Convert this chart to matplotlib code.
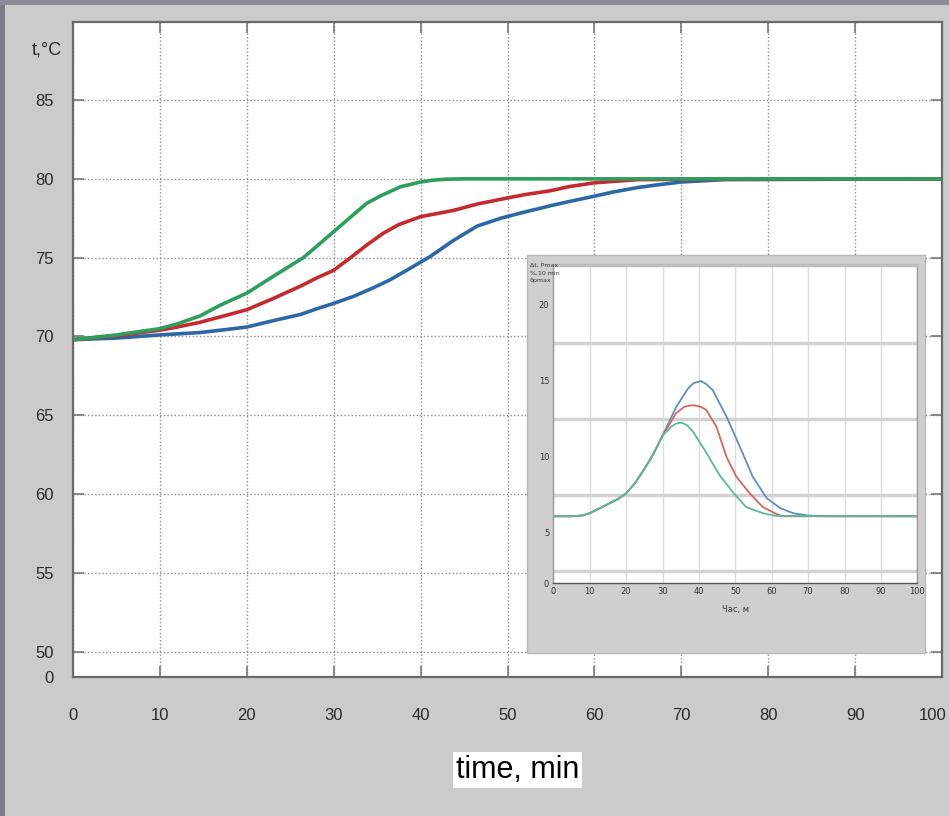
import matplotlib
matplotlib.use("Agg")
import matplotlib.pyplot as plt
from matplotlib.patches import Rectangle
from matplotlib.transforms import ScaledTranslation

# main chart: temperature vs time, three regimes
time_green = [0, 2.5, 5, 7.5, 10, 12, 14.6, 17, 20, 23, 26.5, 28, 30, 32, 33.8, 35.5, 37.7, 40, 41.5, 43, 45, 60, 80, 100]
temp_green = [69.8, 69.95, 70.1, 70.3, 70.5, 70.8, 71.3, 72.0, 72.75, 73.8, 75.0, 75.7, 76.65, 77.6, 78.45, 78.95, 79.5, 79.8, 79.92, 79.98, 80.0, 80.0, 80.0, 80.0]

time_red = [0, 5, 10, 12, 14.6, 17, 20, 23, 26.2, 28, 30, 32.1, 33.8, 35.7, 37.5, 40, 43.8, 46.5, 49.2, 52, 55, 57, 60, 65, 80, 100]
temp_red = [69.8, 70.05, 70.4, 70.6, 70.9, 71.25, 71.7, 72.4, 73.2, 73.7, 74.2, 75.07, 75.8, 76.55, 77.1, 77.6, 78.0, 78.4, 78.7, 79.0, 79.25, 79.5, 79.75, 79.95, 80.0, 80.0]

time_blue = [0, 5, 10, 14.6, 17, 20, 23, 26.2, 28, 30, 32.3, 34.6, 36.5, 38.4, 41.1, 43.8, 46.5, 49.2, 52, 55, 57, 60, 62, 65, 67, 70, 75, 100]
temp_blue = [69.8, 69.9, 70.1, 70.25, 70.4, 70.6, 71.0, 71.4, 71.75, 72.1, 72.55, 73.1, 73.6, 74.2, 75.07, 76.1, 77.0, 77.5, 77.9, 78.3, 78.55, 78.9, 79.15, 79.45, 79.6, 79.8, 79.95, 80.0]

x_ticks = [0, 10, 20, 30, 40, 50, 60, 70, 80, 90, 100]
y_ticks = [48.4, 50, 55, 60, 65, 70, 75, 80, 85]
y_labels = ["0", "50", "55", "60", "65", "70", "75", "80", "85"]

# inset chart
ins_time_blue = [0, 5, 8, 10, 12.5, 15, 17.5, 20, 22.5, 25, 27.5, 30, 33.8, 37, 38.5, 40.5, 42, 43.8, 47.6, 51.2, 54.8, 58.6, 62.3, 65.9, 70, 75, 100]
ins_val_blue = [6.1, 6.1, 6.15, 6.3, 6.6, 6.9, 7.2, 7.6, 8.3, 9.2, 10.2, 11.4, 13.3, 14.5, 14.85, 15.0, 14.8, 14.4, 12.65, 10.7, 8.7, 7.3, 6.64, 6.3, 6.15, 6.1, 6.1]

ins_time_red = [0, 5, 8, 10, 12.5, 15, 17.5, 20, 22.5, 25, 27.5, 30, 33.8, 36, 37.5, 38.8, 40.5, 42, 44.8, 47.6, 50.3, 54, 57.6, 61.3, 63, 100]
ins_val_red = [6.1, 6.1, 6.15, 6.3, 6.6, 6.9, 7.2, 7.6, 8.3, 9.2, 10.2, 11.4, 12.9, 13.3, 13.38, 13.4, 13.3, 13.1, 12.0, 10.0, 8.7, 7.6, 6.7, 6.25, 6.1, 6.1]

ins_time_green = [0, 5, 8, 10, 12.5, 15, 17.5, 20, 22.5, 25, 27.5, 30, 32.4, 33.8, 35.2, 36.7, 38.3, 42, 45.7, 49.6, 53, 57.6, 61.3, 100]
ins_val_green = [6.1, 6.1, 6.15, 6.3, 6.6, 6.9, 7.2, 7.6, 8.3, 9.2, 10.2, 11.4, 12.0, 12.2, 12.26, 12.1, 11.7, 10.3, 8.8, 7.6, 6.7, 6.3, 6.12, 6.1]

ins_y_ticks = [1.69, 5, 10, 15, 20]
ins_y_labels = ["0", "5", "10", "15", "20"]
ins_y_grid = [2.5, 5, 7.5, 10, 12.5, 15, 17.5, 20]

W, H = 949, 816
narrow = ["Liberation Sans Narrow", "Liberation Sans", "DejaVu Sans"]

fig = plt.figure(figsize=(W / 100, H / 100), dpi=100, facecolor="#cbcbcb")

# dark frame strips of the screenshot
fig.add_artist(Rectangle((0, 0), 5 / W, 1, transform=fig.transFigure,
                         facecolor="#7e7b87", edgecolor="none", zorder=0))
fig.add_artist(Rectangle((0, 1 - 5 / H), 1, 5 / H, transform=fig.transFigure,
                         facecolor="#8e8b98", edgecolor="none", zorder=0))

ax = fig.add_axes([73 / W, 1 - 677 / H, 869 / W, 655 / H])
ax.set_facecolor("white")
ax.plot(time_blue, temp_blue, color="#2d68a6", lw=2.6, solid_capstyle="round")
ax.plot(time_red, temp_red, color="#c42a2e", lw=2.6, solid_capstyle="round")
ax.plot(time_green, temp_green, color="#2e9e5c", lw=2.6, solid_capstyle="round")

ax.set_xlim(0, 100)
ax.set_ylim(48.4, 89.95)
ax.set_xticks(x_ticks)
ax.set_yticks(y_ticks)
ax.set_yticklabels(y_labels)
ax.grid(True, color="#8c8c8c", linestyle=(0, (1, 1.6)), linewidth=1.0)
ax.tick_params(direction="in", length=8, width=1.2, color="#777777",
               top=True, right=True, labelcolor="#2a2a2a")
ax.tick_params(axis="x", pad=22)
ax.tick_params(axis="y", pad=14)
for lab in ax.get_xticklabels() + ax.get_yticklabels():
    lab.set_family(narrow)
    lab.set_fontsize(12)
# keep the last x label inside the picture
last = ax.get_xticklabels()[-1]
last.set_transform(last.get_transform() + ScaledTranslation(-0.09, 0, fig.dpi_scale_trans))
for s in ax.spines.values():
    s.set_color("#6a6a6a")
    s.set_linewidth(1.6)

fig.text(32 / W, 1 - 50 / H, "t,°C", fontsize=13, family=narrow,
         color="#2a2a2a", ha="left", va="center")

fig.text(456 / W, 1 - 770 / H, "time, min", fontsize=22, family=narrow,
         color="black", ha="left", va="center",
         bbox=dict(facecolor="white", edgecolor="none", pad=2))

# inset panel
fig.add_artist(Rectangle((527 / W, 1 - 653 / H), 398 / W, 398 / H,
                         transform=fig.transFigure, facecolor="#cfcfcf",
                         edgecolor="#b8b8b8", lw=1, zorder=1))

ins = fig.add_axes([553.3 / W, 1 - 583.3 / H, 364 / W, 318.3 / H])
ins.set_zorder(2)
ins.set_facecolor("white")
ins.plot(ins_time_blue, ins_val_blue, color="#5f8fbf", lw=1.3)
ins.plot(ins_time_red, ins_val_red, color="#d0685c", lw=1.3)
ins.plot(ins_time_green, ins_val_green, color="#5ab99a", lw=1.3)
ins.set_xlim(0, 100)
ins.set_ylim(1.69, 22.63)
ins.set_xticks(x_ticks)
ins.set_yticks(ins_y_ticks)
ins.set_yticklabels(ins_y_labels)
ins.set_yticks(ins_y_grid, minor=True)
ins.grid(True, axis="x", color="#dedede", lw=1)
ins.grid(True, axis="y", which="minor", color="#d2d2d2", lw=2.5)
ins.tick_params(which="both", length=0, labelsize=6, pad=3, labelcolor="#333333")
ins.set_xlabel("Час, м", fontsize=6, color="#333333", labelpad=6)
for s in ins.spines.values():
    s.set_color("#9a9a9a")
    s.set_linewidth(1)
ins.spines["bottom"].set_color("#555555")
ins.spines["top"].set_linewidth(2.5)
ins.spines["top"].set_color("#bdbdbd")

fig.text(530 / W, 1 - 263 / H, "Δt, Pmax\n%,10 min\nδpmax", fontsize=4.5,
         color="#333333", ha="left", va="top", linespacing=1.6)

fig.savefig("out.png", dpi=100, facecolor=fig.get_facecolor())
